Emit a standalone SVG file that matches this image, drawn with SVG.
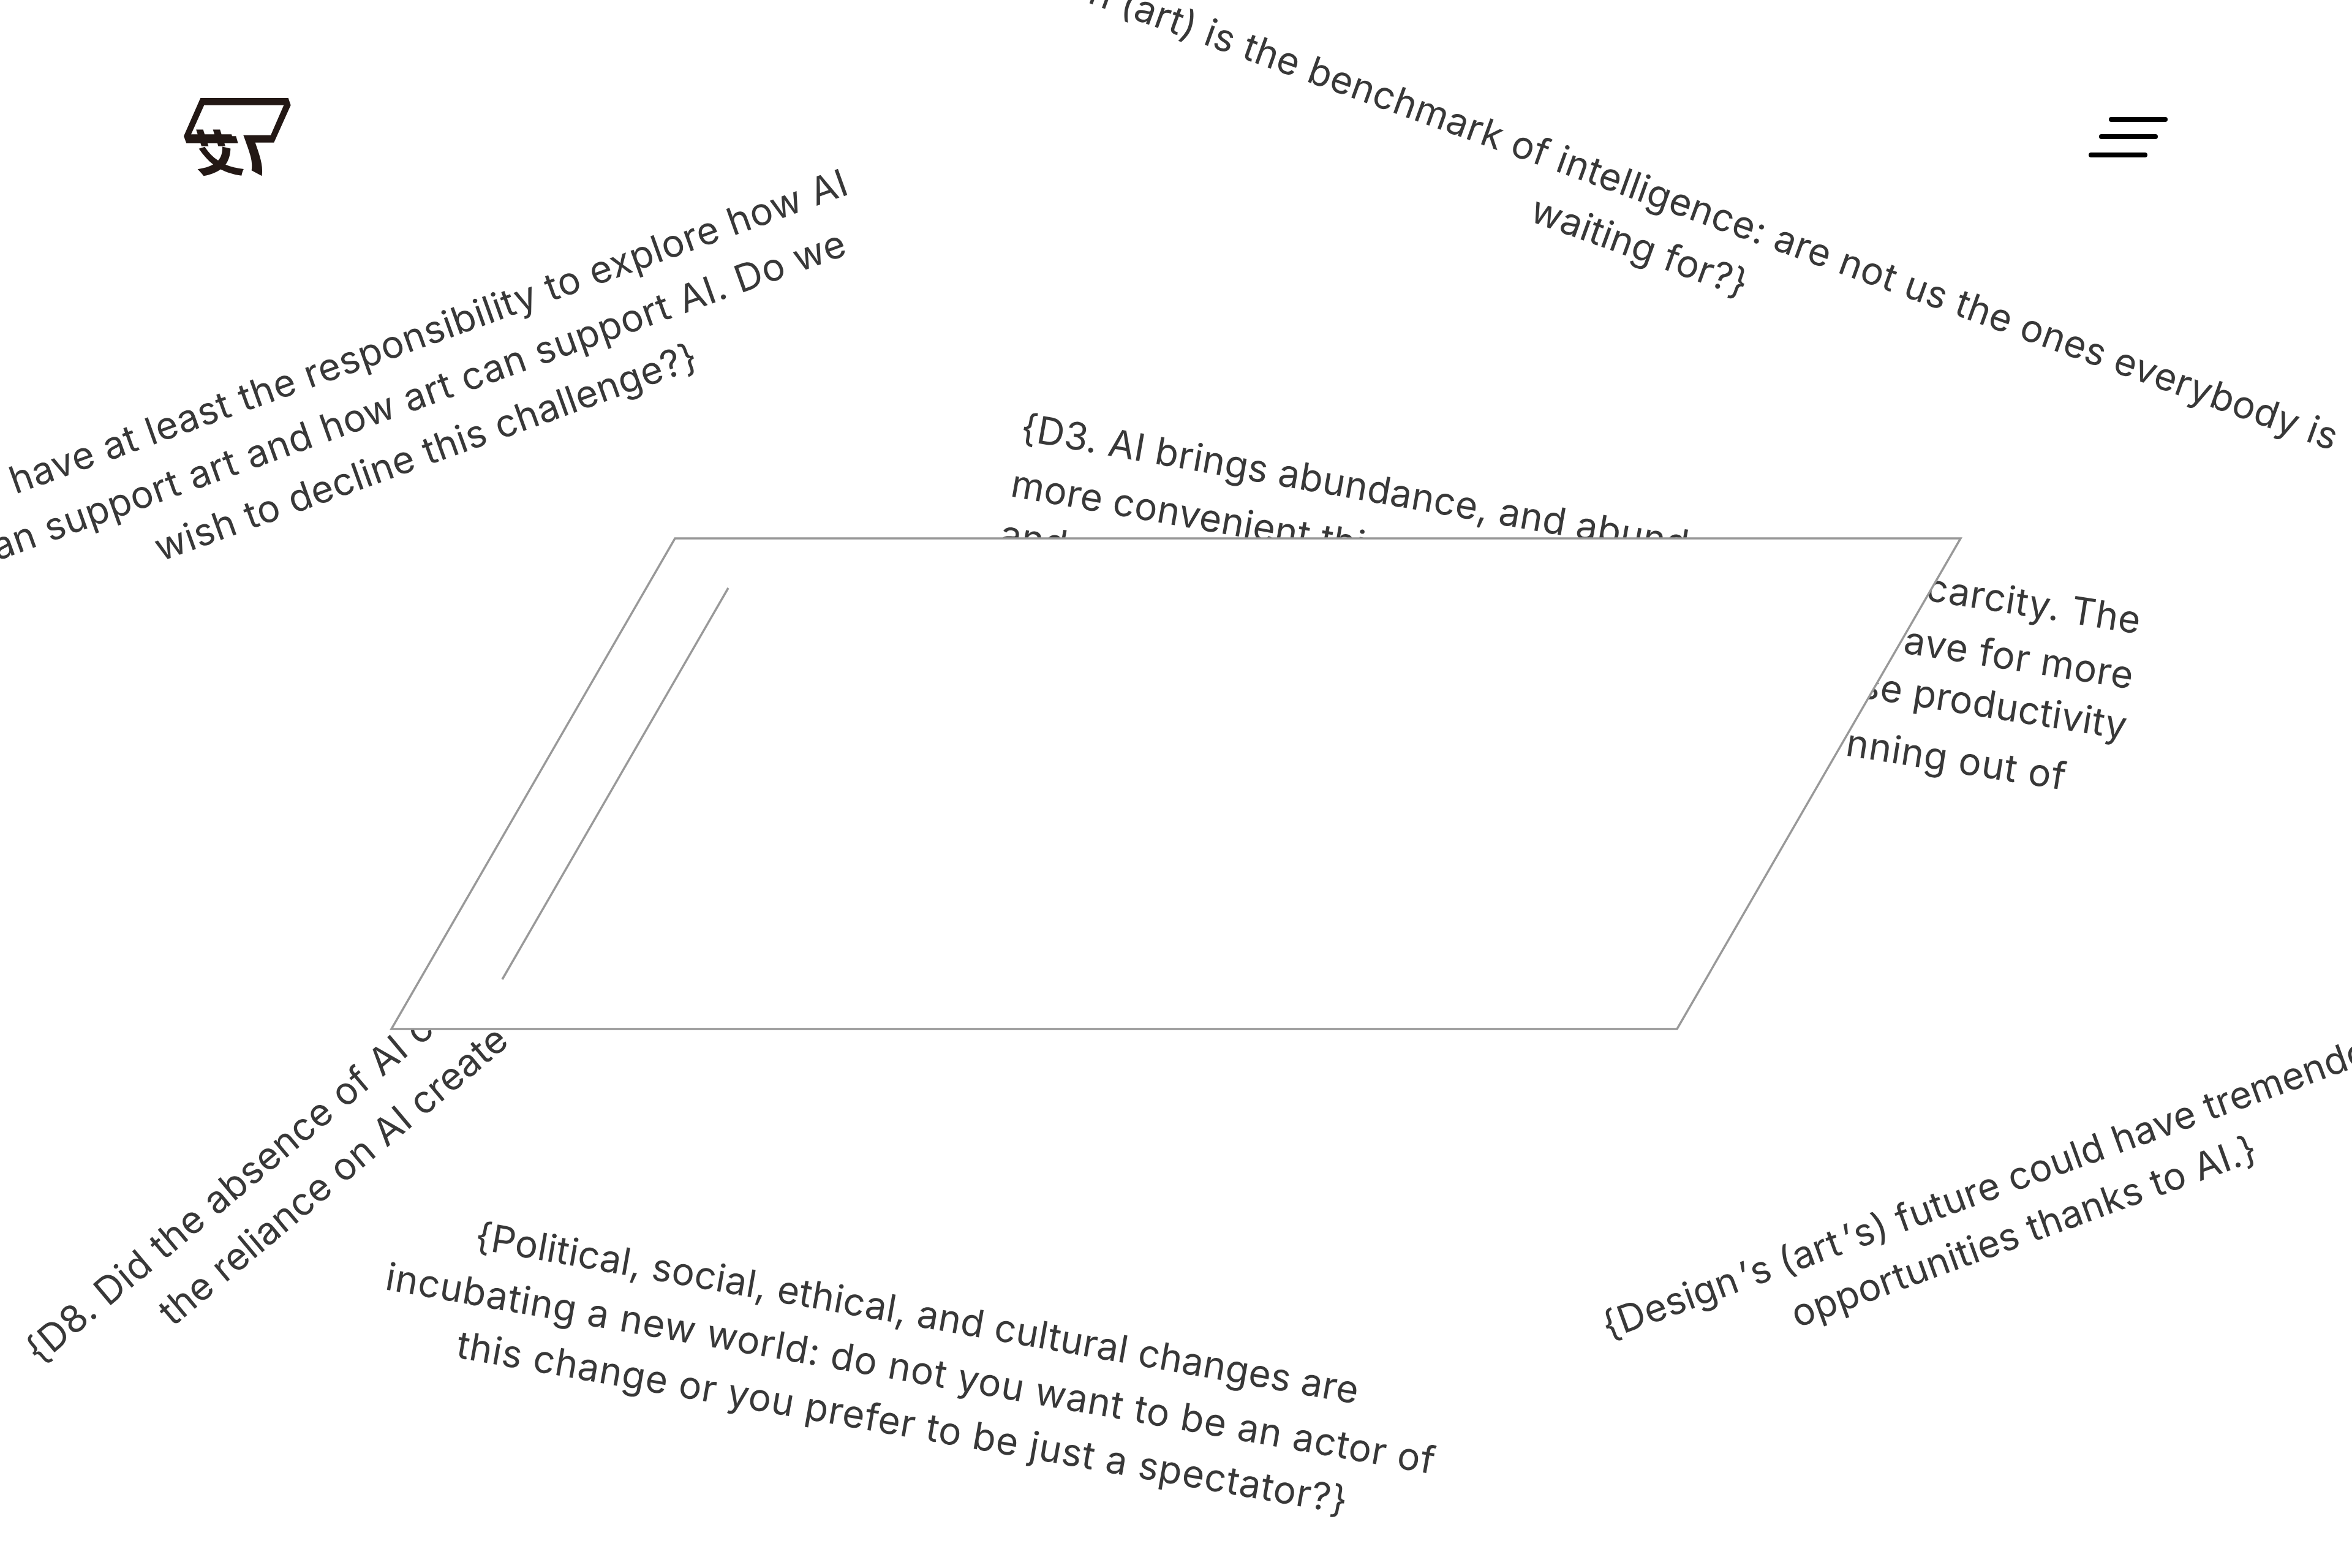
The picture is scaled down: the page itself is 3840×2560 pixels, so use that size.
<svg xmlns="http://www.w3.org/2000/svg" width="3840" height="2560" viewBox="0 0 3840 2560">
<style>
.t{font-family:"Inter","Liberation Sans",Arial,sans-serif;font-size:62px;font-weight:400;letter-spacing:0.3px;fill:#383838}
.m{letter-spacing:0.5px}
.w{letter-spacing:0.7px}
.x{letter-spacing:0.9px}
.e{text-anchor:end}
.frame{fill:#fff;stroke:#999;stroke-width:3.5}
.rule{fill:none;stroke:#999;stroke-width:3.5}
.bar{stroke:#000;stroke-width:8;stroke-linecap:round}
.mark{fill:#231815}
</style>
<rect width="3840" height="2560" fill="#fff"/>
<g id="text-top-right">
<text class="t m e" x="3808" y="736" transform="rotate(19.8 3808 736)">on (art) is the benchmark of intelligence: are not us the ones everybody is</text>
<text class="t" x="2495" y="360" transform="rotate(19.8 2495 360)">waiting for?}</text>
</g>
<g id="text-top-left">
<text class="t w e" x="1389" y="316" transform="rotate(-19.8 1389 316)">have at least the responsibility to explore how AI</text>
<text class="t w e" x="1386" y="415" transform="rotate(-19.8 1386 415)">an support art and how art can support AI. Do we</text>
<text class="t m" x="262" y="917" transform="rotate(-19.8 262 917)">wish to decline this challenge?}</text>
</g>
<g id="text-d3">
<text class="t" x="1664" y="718" transform="rotate(10 1664 718)">{D3. AI brings abundance, and abund</text>
<text class="t" x="1648" y="810" transform="rotate(10 1648 810)">more convenient thi</text>
<text class="t" x="1630" y="892" transform="rotate(10 1630 892)">and</text>
</g>
<g id="text-d3-right">
<text class="t w e" x="3492" y="1035" transform="rotate(9 3492 1035)">carcity. The</text>
<text class="t w e" x="3480" y="1125" transform="rotate(9 3480 1125)">ave for more</text>
<text class="t e" x="3469" y="1207" transform="rotate(9 3469 1207)">se productivity</text>
<text class="t x e" x="3370" y="1290" transform="rotate(9 3370 1290)">nning out of</text>
</g>
<g id="text-d8">
<text class="t w" x="64" y="2229" transform="rotate(-40 64 2229)">{D8. Did the absence of AI c</text>
<text class="t" x="282" y="2167" transform="rotate(-40 282 2167)">the reliance on AI create</text>
</g>
<g id="text-political">
<text class="t" x="773" y="2038" transform="rotate(10 773 2038)">{Political, social, ethical, and cultural changes are</text>
<text class="t x" x="627" y="2105" transform="rotate(10 627 2105)">incubating a new world: do not you want to be an actor of</text>
<text class="t x" x="743" y="2216" transform="rotate(10 743 2216)">this change or you prefer to be just a spectator?}</text>
</g>
<g id="text-design">
<text class="t" x="2625" y="2187" transform="rotate(-20 2625 2187)">{Design<tspan dx="8">’</tspan><tspan dx="6">s</tspan> (art<tspan dx="8">’</tspan><tspan dx="6">s</tspan>) future could have tremendous</text>
<text class="t" x="2934" y="2168" transform="rotate(-20 2934 2168)">opportunities thanks to AI.}</text>
</g>
<g id="panel">
<polygon class="frame" points="1102,879 3201,879 2738,1680 639,1680"/>
<line class="rule" x1="1189" y1="960" x2="820" y2="1599"/>
</g>
<g id="logo">
<path class="mark" d="M327.3 160H470.7L474.7 171.7L447.3 232.7H416.7C424 254 430 270 427.5 287.3L410.7 278.3C413 262 408 250 397.3 220.7H442L463.3 171.7H333.3L310.7 222.3H385.3L388.7 234H304.3L300 222.3Z"/>
<text class="mark" transform="translate(362 280) skewX(18)" font-family="'Noto Sans CJK SC',sans-serif" font-size="80" font-weight="900" text-anchor="middle">艾</text>
</g>
<g id="menu">
<line class="bar" x1="3447" y1="195" x2="3535" y2="195"/>
<line class="bar" x1="3431" y1="223" x2="3519" y2="223"/>
<line class="bar" x1="3414" y1="253" x2="3502" y2="253"/>
</g>
</svg>
